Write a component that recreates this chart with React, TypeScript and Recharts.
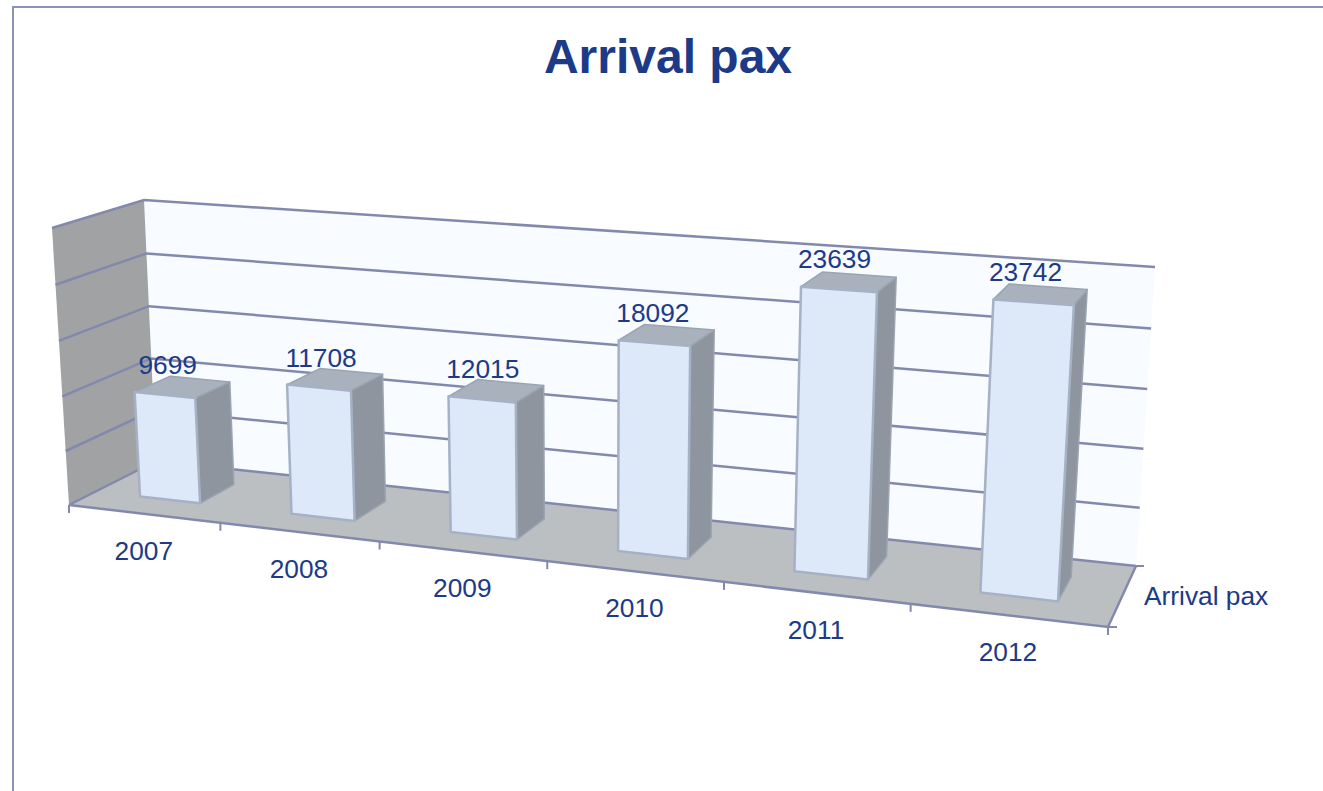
import { Bar, BarChart, CartesianGrid, LabelList, XAxis, YAxis } from "recharts";

const TITLE = "Arrival pax";
const SERIES_NAME = "Arrival pax";
const YEARS = ["2007", "2008", "2009", "2010", "2011", "2012"];
const ARRIVALS = [9699, 11708, 12015, 18092, 23639, 23742];
const VALUE_TICKS = [0, 5000, 10000, 15000, 20000, 25000];

const WIDTH = 1323;
const HEIGHT = 791;
// flat plot the library lays out, then projected on to the 3D box
const PLOT = { left: 100, top: 100, width: 1000, height: 500 };
const AXIS_SIZE = 30;

const TEXT = "#1c3a87";
const LINE = "#8389ad";
const FONT = "'Liberation Sans', Arial, sans-serif";
const LABEL_SIZE = 26.3;

type Pt = [number, number];

// corners in order: bottom-left, bottom-right, top-right, top-left
const FRONT_PLANE: Pt[] = [[69, 505], [1108, 627], [1127, 305], [52, 228]];
const BACK_PLANE: Pt[] = [[156, 461], [1136, 566], [1155, 267], [144, 200]];
const BAR_FRONT = 0.31;
const BAR_BACK = 0.72;

function homography(q: Pt[]) {
  const [[x0, y0], [x1, y1], [x2, y2], [x3, y3]] = q;
  const dx1 = x1 - x2;
  const dx2 = x3 - x2;
  const dy1 = y1 - y2;
  const dy2 = y3 - y2;
  const sx = x0 - x1 + x2 - x3;
  const sy = y0 - y1 + y2 - y3;
  const det = dx1 * dy2 - dx2 * dy1;
  const g = (sx * dy2 - dx2 * sy) / det;
  const h = (dx1 * sy - sx * dy1) / det;
  const a = x1 - x0 + g * x1;
  const b = x3 - x0 + h * x3;
  const d = y1 - y0 + g * y1;
  const e = y3 - y0 + h * y3;
  return (u: number, v: number): Pt => {
    const k = g * u + h * v + 1;
    return [(a * u + b * v + x0) / k, (d * u + e * v + y0) / k];
  };
}

const frontAt = homography(FRONT_PLANE);
const backAt = homography(BACK_PLANE);

function project(u: number, v: number, w: number): Pt {
  const f = frontAt(u, v);
  const b = backAt(u, v);
  return [f[0] + (b[0] - f[0]) * w, f[1] + (b[1] - f[1]) * w];
}

const toU = (x: number) => (x - PLOT.left) / PLOT.width;
const toV = (y: number) => 1 - (y - PLOT.top) / PLOT.height;
const pts = (list: Pt[]) => list.map((p) => `${p[0].toFixed(1)},${p[1].toFixed(1)}`).join(" ");

// walls, floor and fixed text sit in their own svg under the chart
function Scene() {
  return (
    <svg width={WIDTH} height={HEIGHT} style={{ position: "absolute", left: 0, top: 0 }}>
      <polygon points={pts([project(0, 0, 1), project(1, 0, 1), project(1, 1, 1), project(0, 1, 1)])} fill="#f8fbff" />
      <polygon points={pts([project(0, 0, 0), project(0, 0, 1), project(0, 1, 1), project(0, 1, 0)])} fill="#a0a2a4" />
      <polygon points={pts([project(0, 0, 0), project(1, 0, 0), project(1, 0, 1), project(0, 0, 1)])} fill="#bbbfc2" />
      <polyline points={pts([project(0, 0, 0), project(1, 0, 0), project(1, 0, 1)])} fill="none" stroke={LINE} strokeWidth={2.5} />
      <line x1={1108} y1={627} x2={1117} y2={627} stroke={LINE} strokeWidth={2} />
      <line x1={1136} y1={566} x2={1144} y2={566} stroke={LINE} strokeWidth={2} />
      <text x={668} y={73} textAnchor="middle" fontFamily={FONT} fontSize={48} fontWeight="bold" fill={TEXT}>
        {TITLE}
      </text>
      <text x={1144} y={605} fontFamily={FONT} fontSize={LABEL_SIZE} fill={TEXT}>
        {SERIES_NAME}
      </text>
    </svg>
  );
}

function GridLine(props: any) {
  const v = toV(props.y1);
  return (
    <polyline
      key={props.key ?? props.y1}
      points={pts([project(0, v, 0), project(0, v, 1), project(1, v, 1)])}
      fill="none"
      stroke={LINE}
      strokeWidth={2.5}
    />
  );
}

function Box3D(props: any) {
  const { x, y, width, height } = props;
  const u0 = toU(x);
  const u1 = toU(x + width);
  const top = toV(y);
  const base = toV(y + height);
  const edge = { stroke: "#a5b1c4", strokeWidth: 2.5, strokeLinejoin: "round" as const };
  const shadeEdge = { stroke: "#9aa4b2", strokeWidth: 1.5, strokeLinejoin: "round" as const };
  return (
    <g>
      <polygon
        points={pts([project(u1, base, BAR_FRONT), project(u1, base, BAR_BACK), project(u1, top, BAR_BACK), project(u1, top, BAR_FRONT)])}
        fill="#8e959e"
        {...shadeEdge}
      />
      <polygon
        points={pts([project(u0, top, BAR_FRONT), project(u1, top, BAR_FRONT), project(u1, top, BAR_BACK), project(u0, top, BAR_BACK)])}
        fill="#a9b2bc"
        {...shadeEdge}
      />
      <polygon
        points={pts([project(u0, base, BAR_FRONT), project(u1, base, BAR_FRONT), project(u1, top, BAR_FRONT), project(u0, top, BAR_FRONT)])}
        fill="#dde9f8"
        {...edge}
      />
    </g>
  );
}

function ValueLabel(props: any) {
  const { x, y, width, value } = props;
  const u = toU(x + width / 2);
  const [px, py] = project(u, toV(y), BAR_FRONT);
  return (
    <text x={px + 3 - 13 * u * u} y={py - 21} textAnchor="middle" fontFamily={FONT} fontSize={LABEL_SIZE} fill={TEXT}>
      {value}
    </text>
  );
}

function YearTick(props: any) {
  const { x, index, payload } = props;
  const band = PLOT.width / YEARS.length;
  const [px, py] = project(toU(x), 0, 0);
  const marks = [x - band / 2];
  if (index === YEARS.length - 1) marks.push(x + band / 2);
  return (
    <g>
      {marks.map((m) => {
        const [mx, my] = project(toU(m), 0, 0);
        return <line key={m} x1={mx} y1={my} x2={mx} y2={my + 8} stroke={LINE} strokeWidth={2} />;
      })}
      <text x={px} y={py + 46} textAnchor="middle" fontFamily={FONT} fontSize={LABEL_SIZE} fill={TEXT}>
        {payload.value}
      </text>
    </g>
  );
}

export default function App() {
  const data = YEARS.map((year, i) => ({ year, arrivals: ARRIVALS[i] }));
  return (
    <div style={{ position: "absolute", left: 0, top: 0, width: WIDTH, height: HEIGHT, overflow: "hidden", background: "#fff" }}>
      <div
        style={{
          position: "absolute",
          left: 12,
          top: 6,
          width: WIDTH,
          height: HEIGHT,
          borderLeft: "2px solid #8a93b3",
          borderTop: "2px solid #8a93b3",
        }}
      />
      <Scene />
      <div style={{ position: "absolute", left: 0, top: 0 }}>
        <BarChart
          width={WIDTH}
          height={HEIGHT}
          data={data}
          barCategoryGap="30%"
          margin={{
            left: PLOT.left - AXIS_SIZE,
            top: PLOT.top,
            right: WIDTH - PLOT.left - PLOT.width,
            bottom: HEIGHT - PLOT.top - PLOT.height - AXIS_SIZE,
          }}
        >
          <CartesianGrid vertical={false} horizontal={GridLine} />
          <XAxis dataKey="year" height={AXIS_SIZE} axisLine={false} tickLine={false} interval={0} tick={YearTick} />
          <YAxis width={AXIS_SIZE} domain={[0, 25000]} ticks={VALUE_TICKS} axisLine={false} tickLine={false} tick={() => <g />} />
          <Bar dataKey="arrivals" isAnimationActive={false} shape={Box3D}>
            <LabelList dataKey="arrivals" content={ValueLabel} />
          </Bar>
        </BarChart>
      </div>
    </div>
  );
}
